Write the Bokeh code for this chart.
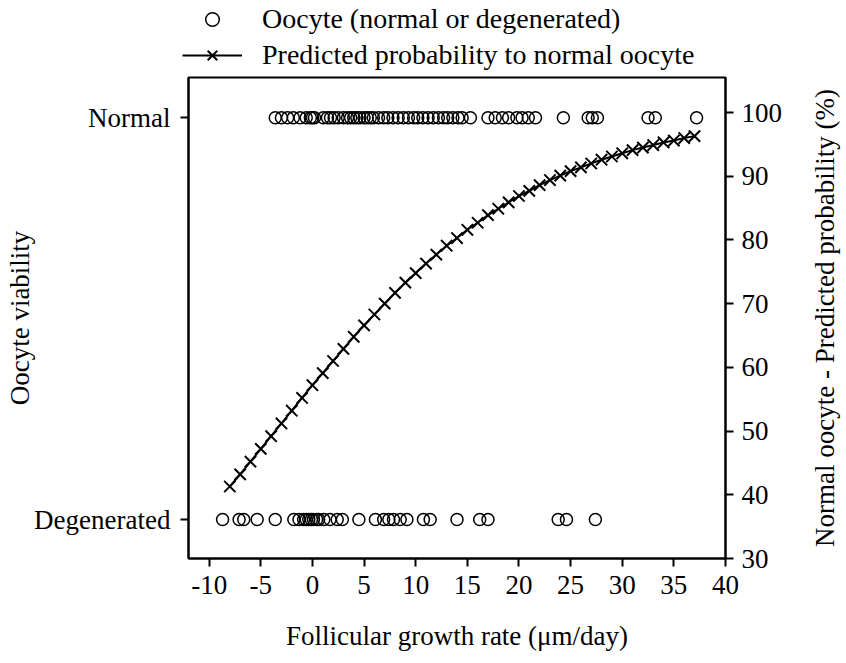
from bokeh.plotting import figure
from bokeh.models import Range1d, LinearAxis, FixedTicker, Legend, LegendItem
from bokeh.layouts import column, row
from bokeh.embed import file_html
from bokeh.resources import INLINE

# ---- data ----
normal_x = [-3.6, -3.0, -2.4, -1.85, -1.2, -0.6, -0.2, 0.0, 0.2, 1.05, 1.45, 1.75,
            2.1, 2.5, 3.0, 3.4, 3.7, 4.0, 4.3, 4.6, 5.0, 5.3, 5.6, 5.9, 6.4, 6.9,
            7.3, 7.8, 8.3, 8.8, 9.3, 9.8, 10.2, 10.7, 11.2, 11.7, 12.2, 12.7, 13.1,
            13.6, 14.1, 14.5, 15.3, 17.0, 17.7, 18.4, 19.0, 19.8, 20.3, 20.9, 21.6,
            24.3, 26.7, 27.1, 27.6, 32.5, 33.2, 37.2]
degen_x = [-8.7, -7.1, -6.65, -5.35, -3.6, -1.8, -1.3, -0.85, -0.6, -0.35, -0.1,
           0.1, 0.4, 0.6, 1.1, 1.7, 2.4, 2.9, 4.5, 6.1, 6.9, 7.4, 7.85, 8.5, 9.15,
           10.75, 11.4, 14.0, 16.2, 17.0, 23.8, 24.6, 27.4]
pred_x = [-8, -7, -6, -5, -4, -3, -2, -1, 0, 1, 2, 3, 4, 5, 6, 7, 8, 9, 10, 11, 12,
          13, 14, 15, 16, 17, 18, 19, 20, 21, 22, 23, 24, 25, 26, 27, 28, 29, 30,
          31, 32, 33, 34, 35, 36, 37]
pred_p = [41.3, 43.2, 45.2, 47.2, 49.2, 51.2, 53.2, 55.2, 57.2, 59.1, 61.0, 62.9,
          64.8, 66.6, 68.3, 70.0, 71.7, 73.3, 74.8, 76.3, 77.7, 79.1, 80.3, 81.6,
          82.7, 83.9, 84.9, 85.9, 86.9, 87.7, 88.6, 89.4, 90.1, 90.8, 91.4, 92.0,
          92.6, 93.1, 93.6, 94.1, 94.5, 94.9, 95.3, 95.6, 96.0, 96.3]
x_ticks = [-10, -5, 0, 5, 10, 15, 20, 25, 30, 35, 40]
x_tick_labels = {-10: "-10", -5: "-5"}
prob_ticks = [30, 40, 50, 60, 70, 80, 90, 100]
viability_levels = {0: "Degenerated", 1: "Normal"}
legend_labels = ["Oocyte (normal or degenerated)", "Predicted probability to normal oocyte"]
right_title_text = "Normal oocyte - Predicted probability (%)"

FONT = "Liberation Serif"
FS = "27px"

W, H = 846, 663
TOP_H = 75          # legend strip
SIDE_W = 46         # right title strip
MAIN_W = W - SIDE_W
MAIN_H = H - TOP_H
L, R, T, B = 188, MAIN_W - 725, 2, 105

# ---------------- main plot ----------------
p = figure(width=MAIN_W, height=MAIN_H, output_backend="svg", toolbar_location=None,
           x_range=Range1d(-12, 40), y_range=Range1d(-0.097, 1.1),
           min_border_left=L, min_border_right=R, min_border_top=T,
           min_border_bottom=B, background_fill_color="white",
           border_fill_color="white")
p.extra_y_ranges = {"prob": Range1d(30, 105.5)}
p.xgrid.visible = False
p.ygrid.visible = False
p.outline_line_color = "black"
p.outline_line_width = 2
p.outline_line_alpha = 1

def style_axis(ax):
    ax.axis_line_width = 2
    ax.axis_line_color = "black"
    ax.major_tick_line_width = 2
    ax.major_tick_line_color = "black"
    ax.major_tick_in = 0
    ax.major_tick_out = 8
    ax.minor_tick_line_color = None
    ax.major_label_text_font = FONT
    ax.major_label_text_font_size = FS
    ax.major_label_text_color = "black"
    ax.axis_label_text_font = FONT
    ax.axis_label_text_font_size = FS
    ax.axis_label_text_font_style = "normal"
    ax.axis_label_text_color = "black"

xa = p.xaxis[0]
xa.ticker = FixedTicker(ticks=x_ticks)
xa.major_label_overrides = x_tick_labels
xa.axis_label = "Follicular growth rate (\u03bcm/day)"
style_axis(xa)
xa.major_label_standoff = 9
xa.axis_label_standoff = 24

ya = p.yaxis[0]
ya.ticker = FixedTicker(ticks=list(viability_levels.keys()))
ya.major_label_overrides = viability_levels
ya.axis_label = "Oocyte viability"
style_axis(ya)
ya.major_label_standoff = 10
ya.axis_label_standoff = -4

ra = LinearAxis(y_range_name="prob", ticker=FixedTicker(ticks=prob_ticks))
style_axis(ra)
ra.major_label_standoff = 8
p.add_layout(ra, "right")

r_norm = p.scatter(normal_x, [1] * len(normal_x), marker="circle", size=12,
                   fill_color=None, line_color="black", line_width=1.5)
r_deg = p.scatter(degen_x, [0] * len(degen_x), marker="circle", size=12,
                  fill_color=None, line_color="black", line_width=1.5)
r_line = p.line(pred_x, pred_p, y_range_name="prob", line_color="black", line_width=2)
r_x = p.scatter(pred_x, pred_p, y_range_name="prob", marker="x", size=16,
                line_color="black", line_width=2)

# ---------------- legend strip ----------------
lg = figure(width=W, height=TOP_H, output_backend="svg", toolbar_location=None,
            x_range=Range1d(0, 1), y_range=Range1d(0, 1), min_border=0,
            border_fill_color="white", background_fill_color="white")
lg.axis.visible = False
lg.grid.visible = False
lg.outline_line_color = None
# legend key renderers: placed outside the visible range, only their keys show
lc = lg.scatter(x=[-5], y=[-5], marker="circle", size=9, fill_color=None,
                line_color="black", line_width=1.5)
ll = lg.line(x=[-5, -4], y=[-5, -5], line_color="black", line_width=2)
lx = lg.scatter(x=[-5], y=[-5], marker="x", size=22, line_color="black", line_width=2)
legend = Legend(items=[
    LegendItem(label=legend_labels[0], renderers=[lc]),
    LegendItem(label=legend_labels[1], renderers=[ll, lx]),
], location=(182, 3))
legend.label_text_font = FONT
legend.label_text_font_size = "28px"
legend.label_text_color = "black"
legend.label_height = 34
legend.glyph_width = 60
legend.glyph_height = 34
legend.label_standoff = 20
legend.spacing = 2
legend.padding = 0
legend.margin = 0
legend.border_line_alpha = 0
legend.background_fill_alpha = 0
lg.add_layout(legend, "center")

# ---------------- right title strip (axis title of a bare axis) ----------------
side = figure(width=SIDE_W, height=MAIN_H, output_backend="svg", toolbar_location=None,
              x_range=Range1d(0, 1), y_range=Range1d(0, 1),
              min_border_left=SIDE_W - 1, min_border_right=0,
              min_border_top=T, min_border_bottom=B,
              border_fill_color="white", background_fill_color="white")
side.xaxis.visible = False
side.grid.visible = False
side.outline_line_color = None
sa = side.yaxis[0]
sa.ticker = FixedTicker(ticks=[])
sa.axis_line_color = None
sa.major_tick_out = 0
sa.major_tick_in = 0
sa.minor_tick_line_color = None
sa.major_label_text_font_size = "0px"
sa.axis_label = right_title_text
sa.axis_label_text_font = FONT
sa.axis_label_text_font_size = FS
sa.axis_label_text_font_style = "normal"
sa.axis_label_text_color = "black"
sa.axis_label_standoff = 6

layout = column(lg, row(p, side, spacing=0), spacing=0)
open("out.html", "w").write(file_html(layout, INLINE))
